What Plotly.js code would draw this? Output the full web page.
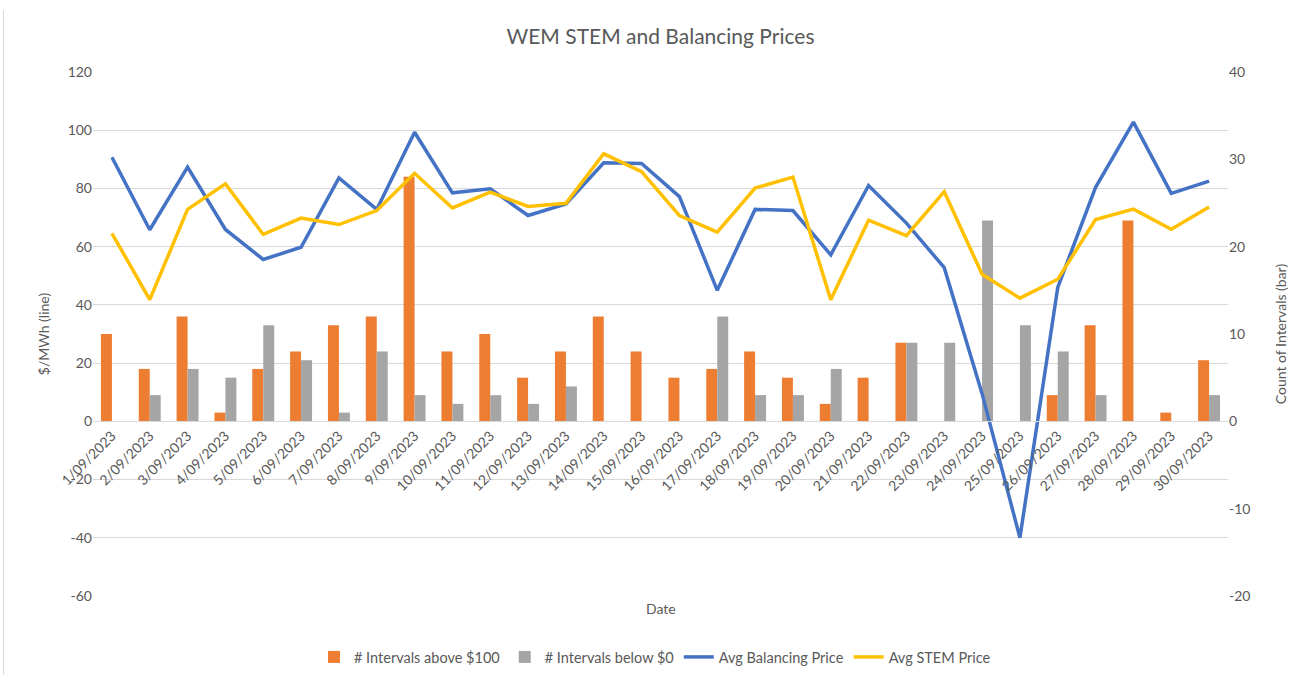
<!DOCTYPE html>
<html>
<head>
<meta charset="utf-8">
<script src="https://cdn.plot.ly/plotly-3.0.1.min.js"></script>
<style>
  body { margin: 0; background: #fff; }
  #chart { width: 1310px; height: 675px; }
  #edge { position: absolute; left: 3px; top: 10px; width: 1px; height: 665px; background: #d9d9d9; }
</style>
</head>
<body>
<div id="edge"></div>
<div id="chart"></div>
<script>
const dates = ["1/09/2023","2/09/2023","3/09/2023","4/09/2023","5/09/2023","6/09/2023","7/09/2023","8/09/2023","9/09/2023","10/09/2023",
  "11/09/2023","12/09/2023","13/09/2023","14/09/2023","15/09/2023","16/09/2023","17/09/2023","18/09/2023","19/09/2023","20/09/2023",
  "21/09/2023","22/09/2023","23/09/2023","24/09/2023","25/09/2023","26/09/2023","27/09/2023","28/09/2023","29/09/2023","30/09/2023"];
const intervalsAbove100 = [10,6,12,1,6,8,11,12,28,8, 10,5,8,12,8,5,6,8,5,2, 5,9,0,0,0,3,11,23,1,7];
const intervalsBelow0   = [0,3,6,5,11,7,1,8,3,2, 3,2,4,0,0,0,12,3,3,6, 0,9,9,23,11,8,3,0,0,3];
const avgBalancing = [90.7,65.8,87.3,65.9,55.6,59.8,83.6,72.8,99.3,78.5, 79.9,70.7,74.7,88.8,88.6,77.2,45.0,72.8,72.4,57.2,
  81.0,68.1,52.8,9.5,-40.0,46.0,80.4,102.8,78.3,82.5];
const avgSTEM = [64.6,41.8,72.8,81.6,64.2,69.8,67.6,72.4,85.2,73.3, 78.7,73.8,74.9,91.9,85.8,70.7,65.0,80.1,83.9,41.8,
  69.1,63.8,78.9,50.5,42.3,48.8,69.3,72.9,66.0,73.6];

const leftTicks = [-60,-40,-20,0,20,40,60,80,100,120];
const rightTicks = [-20,-10,0,10,20,30,40];

const txt = '#595959';
const font = 'Lato, "Open Sans", sans-serif';

const traces = [
  { type: 'bar', name: '# Intervals above $100', x: dates, y: intervalsAbove100, yaxis: 'y',
    marker: { color: '#ED7D31' }, hoverinfo: 'x+y' },
  { type: 'bar', name: '# Intervals below $0', x: dates, y: intervalsBelow0, yaxis: 'y',
    marker: { color: '#A5A5A5' }, hoverinfo: 'x+y' },
  { type: 'scatter', mode: 'lines', name: 'Avg Balancing Price', x: dates, y: avgBalancing, yaxis: 'y2',
    line: { color: '#4472C4', width: 3.5 } },
  { type: 'scatter', mode: 'lines', name: 'Avg STEM Price', x: dates, y: avgSTEM, yaxis: 'y2',
    line: { color: '#FFC000', width: 3.5 } }
];

const layout = {
  width: 1310, height: 675,
  paper_bgcolor: 'rgba(0,0,0,0)', plot_bgcolor: 'rgba(0,0,0,0)',
  margin: { l: 93, r: 82, t: 72, b: 79, autoexpand: false },
  font: { family: font, color: txt, size: 14 },
  title: { text: 'WEM STEM and Balancing Prices', font: { family: font, size: 21, color: txt },
    x: 0.5, xref: 'paper', xanchor: 'center', y: 1 - 37/675, yanchor: 'middle' },
  barmode: 'group', bargap: 0.42, bargroupgap: 0,
  showlegend: true,
  legend: { orientation: 'h', x: 0.5, xref: 'container', xanchor: 'center', yref: 'container', y: 1 - 657/675, yanchor: 'middle',
    font: { family: font, size: 14.5, color: txt }, traceorder: 'normal', itemwidth: 30 },
  xaxis: { type: 'category', anchor: 'free', position: 60/180, tickangle: -45,
    showline: true, linecolor: '#d9d9d9', linewidth: 1, showgrid: false, ticks: '',
    tickfont: { family: font, size: 14, color: txt }, range: [-0.5, 29.5] },
  yaxis: { side: 'right', range: [-20, 40], tickvals: rightTicks, ticktext: rightTicks.map(String),
    showgrid: false, zeroline: false, ticks: '', tickfont: { family: font, size: 14, color: txt },
    title: { text: 'Count of Intervals (bar)', font: { family: font, size: 14, color: txt }, standoff: 26 } },
  yaxis2: { side: 'left', overlaying: 'y', range: [-60, 120], tickvals: leftTicks, ticktext: leftTicks.map(String),
    showgrid: true, gridcolor: '#d9d9d9', gridwidth: 1, zeroline: false, ticks: '',
    tickfont: { family: font, size: 14, color: txt },
    title: { text: '$/MWh (line)', font: { family: font, size: 14, color: txt }, standoff: 14 } },
  annotations: [
    { text: 'Date', xref: 'paper', yref: 'paper', x: 0.5, y: -12/524, xanchor: 'center', yanchor: 'middle',
      showarrow: false, font: { family: font, size: 14, color: txt } }
  ]
};

Plotly.newPlot('chart', traces, layout, { displayModeBar: false, staticPlot: true });
</script>
</body>
</html>
